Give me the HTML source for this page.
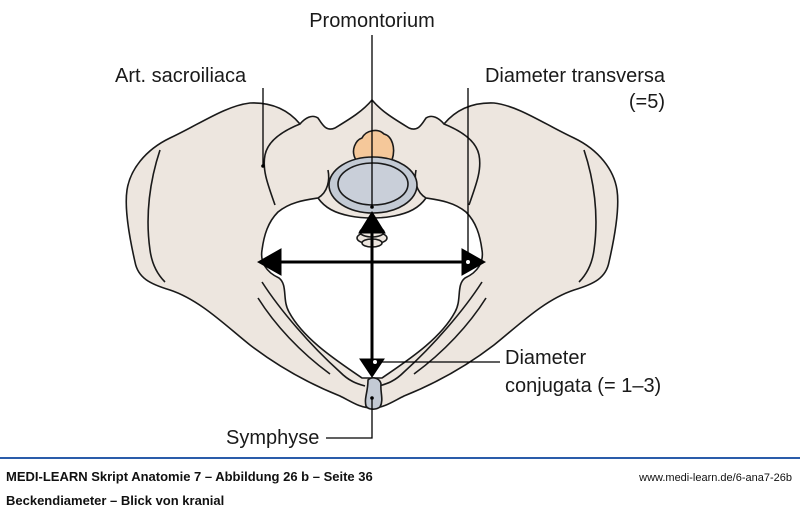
<!DOCTYPE html>
<html><head><meta charset="utf-8"><style>
html,body{margin:0;padding:0;background:#fff;}
body{width:800px;height:512px;overflow:hidden;position:relative;font-family:"Liberation Sans",sans-serif;}
</style></head><body>
<svg width="800" height="512" viewBox="0 0 800 512" xmlns="http://www.w3.org/2000/svg" style="position:absolute;left:0;top:0">
<g stroke="#1a1a1a" stroke-width="1.6" stroke-linejoin="round" fill="#ede6df">
<!-- outer silhouette -->
<path d="M372,408 C360,408 352,402 340,396 C310,384 280,368 250,345 C225,325 200,300 170,290 C150,284 138,278 135,262 C130,240 124,210 127,190 C130,170 145,150 170,138 C200,124 225,106 250,103 C275,102 290,112 300,124 C305,118 312,114 318,118 C322,124 326,132 335,128 C348,120 362,112 372,100 C382,112 396,120 409,128 C418,132 422,124 426,118 C432,114 439,118 444,124 C454,112 469,102 494,103 C519,106 544,124 574,138 C599,150 614,170 617,190 C620,210 614,240 609,262 C606,278 594,284 574,290 C544,300 519,325 494,345 C464,368 434,384 404,396 C392,402 384,408 372,408 Z"/>
<!-- inner inlet -->
<path fill="#fff" d="M262,250 C264,235 268,222 278,212 C290,202 305,200 318,198 C325,208 335,213 350,216 C360,218 366,218 372,218 C378,218 384,218 394,216 C409,213 419,208 426,198 C439,200 454,202 466,212 C476,222 480,235 482,250 C484,262 478,272 465,278 C456,285 462,300 455,312 C440,340 405,362 382,378 L362,378 C339,362 304,340 289,312 C282,300 288,285 279,278 C266,272 260,262 262,250 Z"/>
<!-- sacrum ala lines -->
<path fill="none" d="M300,124 C285,130 268,140 265,155 C262,170 268,185 275,205"/>
<path fill="none" d="M444,124 C459,130 476,140 479,155 C482,170 476,185 469,205"/>
<path fill="none" d="M318,198 C328,192 330,180 328,170"/>
<path fill="none" d="M426,198 C416,192 414,180 416,170"/>
<!-- iliac inner crest lines -->
<path fill="none" d="M160,150 C150,180 145,215 150,250 C152,265 158,275 165,282"/>
<path fill="none" d="M584,150 C594,180 599,215 594,250 C592,265 586,275 579,282"/>
<!-- pubic rami lines -->
<path fill="none" d="M262,282 C280,310 310,345 340,372 C350,382 358,384 365,386"/>
<path fill="none" d="M258,298 C275,325 300,352 330,374"/>
<path fill="none" d="M482,282 C464,310 434,345 404,372 C394,382 386,384 379,386"/>
<path fill="none" d="M486,298 C469,325 444,352 414,374"/>
<!-- coccyx -->
<ellipse cx="372" cy="238" rx="15" ry="6"/>
<ellipse cx="372" cy="232" rx="12" ry="5"/>
<ellipse cx="372" cy="243" rx="10" ry="4"/>
<!-- vertebra -->
<path fill="#f5c89a" d="M356,160 C350,150 356,140 362,138 C366,130 378,128 384,134 C392,136 396,148 392,160 Z"/>
<ellipse cx="373" cy="185" rx="44" ry="28" fill="#c3cad4"/>
<ellipse cx="373" cy="184" rx="35" ry="21" fill="#c9cfd9"/>
<!-- symphysis -->
<path fill="#c3cad4" d="M368,380 C372,376 380,378 381,384 C380,392 384,400 380,407 C376,410 368,410 366,406 C364,398 368,392 368,380 Z"/>
</g>
<!-- arrows -->
<g stroke="#000" fill="#000">
<line x1="372" y1="225" x2="372" y2="362" stroke-width="3"/>
<line x1="275" y1="262" x2="470" y2="262" stroke-width="3"/>
<polygon points="372,212 359,233 385,233"/>
<polygon points="372,377 360,359 384,359"/>
<polygon points="258,262 281,249 281,275"/>
<polygon points="485,262 462,249 462,275"/>
</g>
<!-- leaders -->
<g stroke="#000" stroke-width="1.3" fill="none">
<line x1="372" y1="35" x2="372" y2="205"/>
<line x1="263" y1="88" x2="263" y2="165"/>
<line x1="468" y1="88" x2="468" y2="260"/>
<line x1="375" y1="362" x2="500" y2="362"/>
<polyline points="326,438 372,438 372,398"/>
</g>
<g fill="#000"><circle cx="372" cy="207" r="1.8"/><circle cx="263" cy="166" r="1.8"/></g>
<circle cx="468" cy="262" r="2.5" fill="#fff" stroke="#000" stroke-width="1"/>
<circle cx="375" cy="362" r="2.5" fill="#fff" stroke="#000" stroke-width="1"/>
<circle cx="372" cy="398" r="1.8" fill="#000"/>
<g font-family="Liberation Sans, sans-serif" font-size="20" fill="#1a1a1a">
<text x="372" y="27" text-anchor="middle">Promontorium</text>
<text x="115" y="82">Art. sacroiliaca</text>
<text x="665" y="82" text-anchor="end">Diameter transversa</text>
<text x="665" y="108" text-anchor="end">(=5)</text>
<text x="505" y="364">Diameter</text>
<text x="505" y="392">conjugata (= 1–3)</text>
<text x="226" y="444">Symphyse</text>
</g>
<rect x="0" y="457" width="800" height="2" fill="#2a5caa"/>
<g font-family="Liberation Sans, sans-serif" fill="#111">
<text x="6" y="481" font-size="13" font-weight="bold">MEDI-LEARN Skript Anatomie 7 – Abbildung 26 b – Seite 36</text>
<text x="6" y="505" font-size="13" font-weight="bold">Beckendiameter – Blick von kranial</text>
<text x="792" y="481" font-size="11" text-anchor="end">www.medi-learn.de/6-ana7-26b</text>
</g>
</svg>
</body></html>
